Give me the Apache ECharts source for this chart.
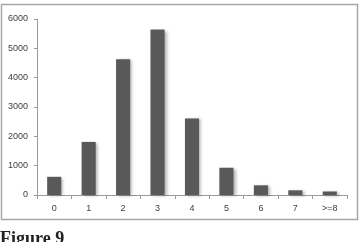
<!DOCTYPE html>
<html>
<head>
<meta charset="utf-8">
<script src="https://cdn.jsdelivr.net/npm/echarts@6/dist/echarts.min.js"></script>
<style>
  html, body { margin: 0; padding: 0; background: #fff; }
  #chart { width: 362px; height: 242px; }
</style>
</head>
<body>
<div id="chart"></div>
<script>
// data
var categories = ['0', '1', '2', '3', '4', '5', '6', '7', '>=8'];
var counts = [620, 1810, 4630, 5640, 2610, 930, 330, 160, 120];

var chart = echarts.init(document.getElementById('chart'));

var option = {
  animation: false,
  grid: { left: 37, right: 15, top: 19, bottom: 47 },
  graphic: [
    // outer frame
    { type: 'rect', shape: { x: 1.5, y: 4.5, width: 356, height: 215 },
      style: { fill: 'none', stroke: '#a6a6a6', lineWidth: 1.5 }, silent: true },
    // caption
    { type: 'text', left: 0, top: 230,
      style: { text: 'Figure 9', font: 'bold 18px "Liberation Serif"', fill: '#222' } }
  ],
  xAxis: {
    type: 'category',
    data: categories,
    axisLine: { lineStyle: { color: '#9a9a9a', width: 1 } },
    axisTick: { show: true, length: 4, lineStyle: { color: '#9a9a9a' } },
    axisLabel: { color: '#404040', fontSize: 9, fontFamily: 'Liberation Sans', margin: 9 }
  },
  yAxis: {
    type: 'value',
    min: 0, max: 6000, interval: 1000,
    splitLine: { show: false },
    axisLine: { show: true, lineStyle: { color: '#9a9a9a', width: 1 } },
    axisTick: { show: true, length: 3, lineStyle: { color: '#9a9a9a' } },
    axisLabel: { color: '#404040', fontSize: 9, fontFamily: 'Liberation Sans', margin: 9,
      formatter: function (v) { return String(v); } }
  },
  series: [{
    type: 'bar',
    data: counts,
    barWidth: '41%',
    itemStyle: {
      color: '#595959',
      shadowColor: 'rgba(0,0,0,0.3)',
      shadowBlur: 3,
      shadowOffsetX: 2,
      shadowOffsetY: 1
    }
  }]
};

chart.setOption(option);
</script>
</body>
</html>
